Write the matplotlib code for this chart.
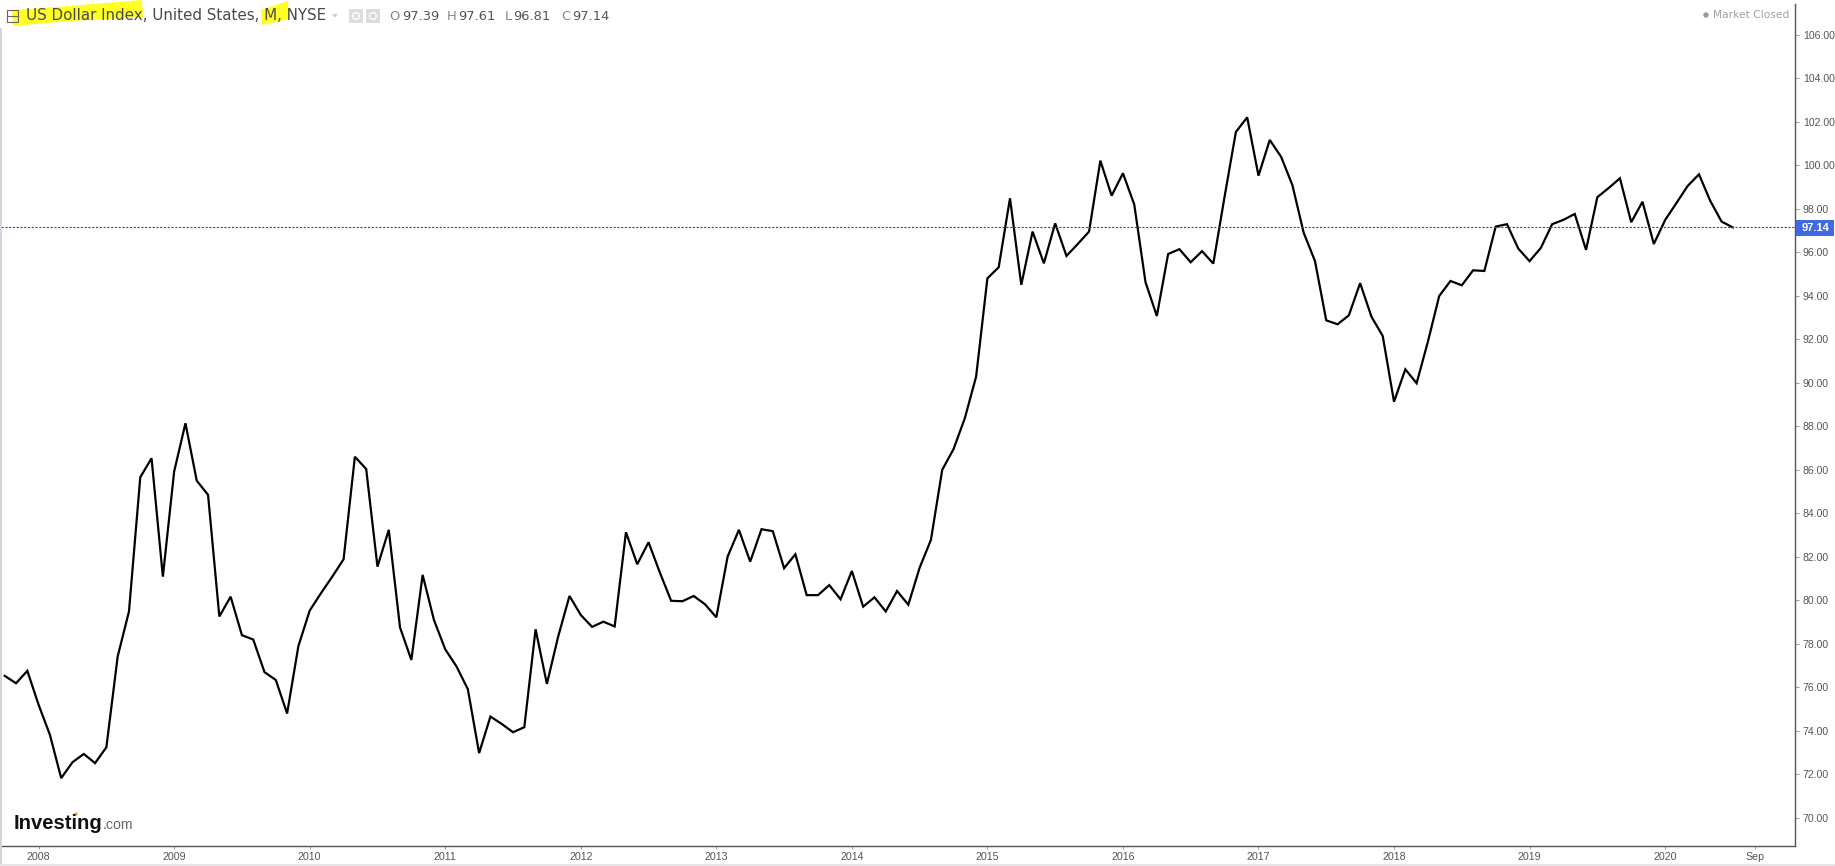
"""Monthly US Dollar Index line chart in the Investing.com style."""

import matplotlib

matplotlib.use("Agg")

import matplotlib.pyplot as plt
import numpy as np
from matplotlib.patches import Circle, Polygon, Rectangle

# monthly closes, Oct 2007 to Jul 2020
close_values = [
    76.53, 76.19, 76.76, 75.2, 73.82, 71.83, 72.56, 72.94, 72.52, 73.25,
    77.42, 79.49, 85.66, 86.53, 81.09, 85.92, 88.14, 85.5, 84.85, 79.26,
    80.17, 78.4, 78.2, 76.7, 76.34, 74.8, 77.9, 79.53, 80.33, 81.09,
    81.89, 86.6, 86.04, 81.55, 83.24, 78.75, 77.26, 81.17, 79.1, 77.75,
    76.96, 75.92, 72.98, 74.66, 74.32, 73.94, 74.17, 78.67, 76.16, 78.34,
    80.2, 79.33, 78.78, 79.02, 78.8, 83.13, 81.66, 82.67, 81.28, 79.98,
    79.96, 80.2, 79.82, 79.22, 82.01, 83.24, 81.78, 83.27, 83.18, 81.48,
    82.12, 80.24, 80.24, 80.7, 80.05, 81.35, 79.71, 80.14, 79.49, 80.43,
    79.8, 81.5, 82.78, 86.0, 86.95, 88.37, 90.28, 94.8, 95.31, 98.48,
    94.5, 96.95, 95.49, 97.33, 95.83, 96.38, 96.95, 100.21, 98.6, 99.63,
    98.2, 94.62, 93.07, 95.92, 96.14, 95.54, 96.05, 95.48, 98.56, 101.53,
    102.2, 99.52, 101.16, 100.39, 99.09, 96.9, 95.6, 92.87, 92.69, 93.1,
    94.58, 93.04, 92.15, 89.13, 90.62, 89.98, 91.89, 93.99, 94.68, 94.48,
    95.17, 95.14, 97.18, 97.29, 96.17, 95.59, 96.2, 97.29, 97.49, 97.76,
    96.11, 98.53, 98.95, 99.4, 97.38, 98.32, 96.38, 97.48, 98.26, 99.05,
    99.58, 98.36, 97.41, 97.14,
]
x_tick_months = [3, 15, 27, 39, 51, 63, 75, 87, 99, 111, 123, 135, 147, 155]
x_tick_labels = [
    "2008", "2009", "2010", "2011", "2012", "2013", "2014",
    "2015", "2016", "2017", "2018", "2019", "2020", "Sep",
]
y_ticks = [70, 72, 74, 76, 78, 80, 82, 84, 86, 88, 90, 92, 94, 96, 98, 100, 102, 104, 106]
ohlc_labels = ["O", "H", "L", "C"]
ohlc_values = ["97.39", "97.61", "96.81", "97.14"]

WIDTH = 1835
HEIGHT = 866
AXIS_GRAY = "#555555"
TICK_FONT = "Liberation Sans"
HEADER_FONT = "DejaVu Sans"


def draw_chart(fig):
    ax = fig.add_axes([1 / WIDTH, (HEIGHT - 846) / HEIGHT, 1794 / WIDTH, 842 / HEIGHT])
    ax.plot(
        np.arange(len(close_values)),
        close_values,
        color="black",
        linewidth=1.6,
        solid_joinstyle="miter",
    )
    ax.axhline(close_values[-1], color="#3a45a8", linewidth=0.8, linestyle=(0, (2, 1.4)))
    ax.set_xlim(-0.33, 158.5)
    ax.set_ylim(68.71, 107.41)
    ax.spines[["left", "top"]].set_visible(False)
    ax.spines[["right", "bottom"]].set_color(AXIS_GRAY)
    ax.spines[["right", "bottom"]].set_linewidth(1.0)
    ax.yaxis.tick_right()
    ax.set_yticks(y_ticks, [f"{v:.2f}" for v in y_ticks], fontfamily=TICK_FONT)
    ax.set_xticks(x_tick_months, x_tick_labels, fontfamily=TICK_FONT)
    ax.tick_params(axis="y", length=3, width=0.7, color="#999999", labelcolor=AXIS_GRAY, labelsize=7.6, pad=2.7)
    ax.tick_params(axis="x", length=2, width=0.7, color="#999999", labelcolor=AXIS_GRAY, labelsize=7.65, pad=2.5)


def draw_overlay(fig):
    # pixel-space layer for the header, badge and logo
    over = fig.add_axes([0, 0, 1, 1], zorder=5)
    over.set_xlim(0, WIDTH)
    over.set_ylim(HEIGHT, 0)
    over.axis("off")

    over.add_patch(Rectangle((0, 28), 1.5, HEIGHT, color="#d4d4e0", lw=0))
    over.add_patch(Rectangle((0, 864), WIDTH, 2, color="#e6e6e6", lw=0))

    # yellow marker strokes
    over.add_patch(Polygon([(12, 10), (70, 6), (142, 0), (143, 17), (70, 21), (13, 26)], color="#ffff22", lw=0))
    over.add_patch(Polygon([(261, 10), (288, 1), (289, 19), (262, 25)], color="#ffff22", lw=0))

    # collapse icon
    over.add_patch(Rectangle((7, 10), 11, 12, fill=False, ec="#666666", lw=0.8))
    over.plot([7, 18], [16, 16], color="#666666", lw=0.8)

    over.text(26, 16, "US Dollar Index, United States, M, NYSE", family=HEADER_FONT, fontsize=10.9,
              color="#4a4a4a", va="center", ha="left")
    over.add_patch(Polygon([(332, 14), (338, 14), (335, 17.5)], color="#cccccc", lw=0))
    for left in (349, 366):
        over.add_patch(Rectangle((left, 9), 14, 14, color="#dcdcdc", lw=0))
        over.add_patch(Circle((left + 7, 16), 3.4, fc="#dcdcdc", ec="white", lw=1))

    for label, value, x_label, x_value in zip(ohlc_labels, ohlc_values, (389, 447, 505, 561), (402, 458, 513, 572)):
        over.text(x_label, 16, label, family=HEADER_FONT, fontsize=9.4, color="#888888", va="center")
        over.text(x_value, 16, value, family=HEADER_FONT, fontsize=9.4, color="#555555", va="center")

    over.add_patch(Circle((1706, 15), 2.7, color="#999999", lw=0))
    over.text(1713, 15, "Market Closed", family=HEADER_FONT, fontsize=7.7, color="#a0a0a0", va="center")

    # last price badge
    over.add_patch(Rectangle((1795.5, 220), 38.5, 16, color="#4169e1", lw=0))
    over.text(1816, 228, f"{close_values[-1]:.2f}", family=TICK_FONT, fontsize=8, fontweight="bold",
              color="white", va="center", ha="center")

    # logo
    over.text(14, 829, "Investing", family=TICK_FONT, fontsize=14.6, fontweight="bold", color="#111111",
              va="baseline")
    over.text(103, 829, ".com", family=TICK_FONT, fontsize=10.2, color="#666666", va="baseline")
    over.add_patch(Circle((76, 814), 1.6, color="#f5a623", lw=0))


def main():
    fig = plt.figure(figsize=(WIDTH / 100, HEIGHT / 100), dpi=100, facecolor="white")
    draw_chart(fig)
    draw_overlay(fig)
    fig.savefig("out.png", dpi=100)
    plt.close(fig)


if __name__ == "__main__":
    main()
